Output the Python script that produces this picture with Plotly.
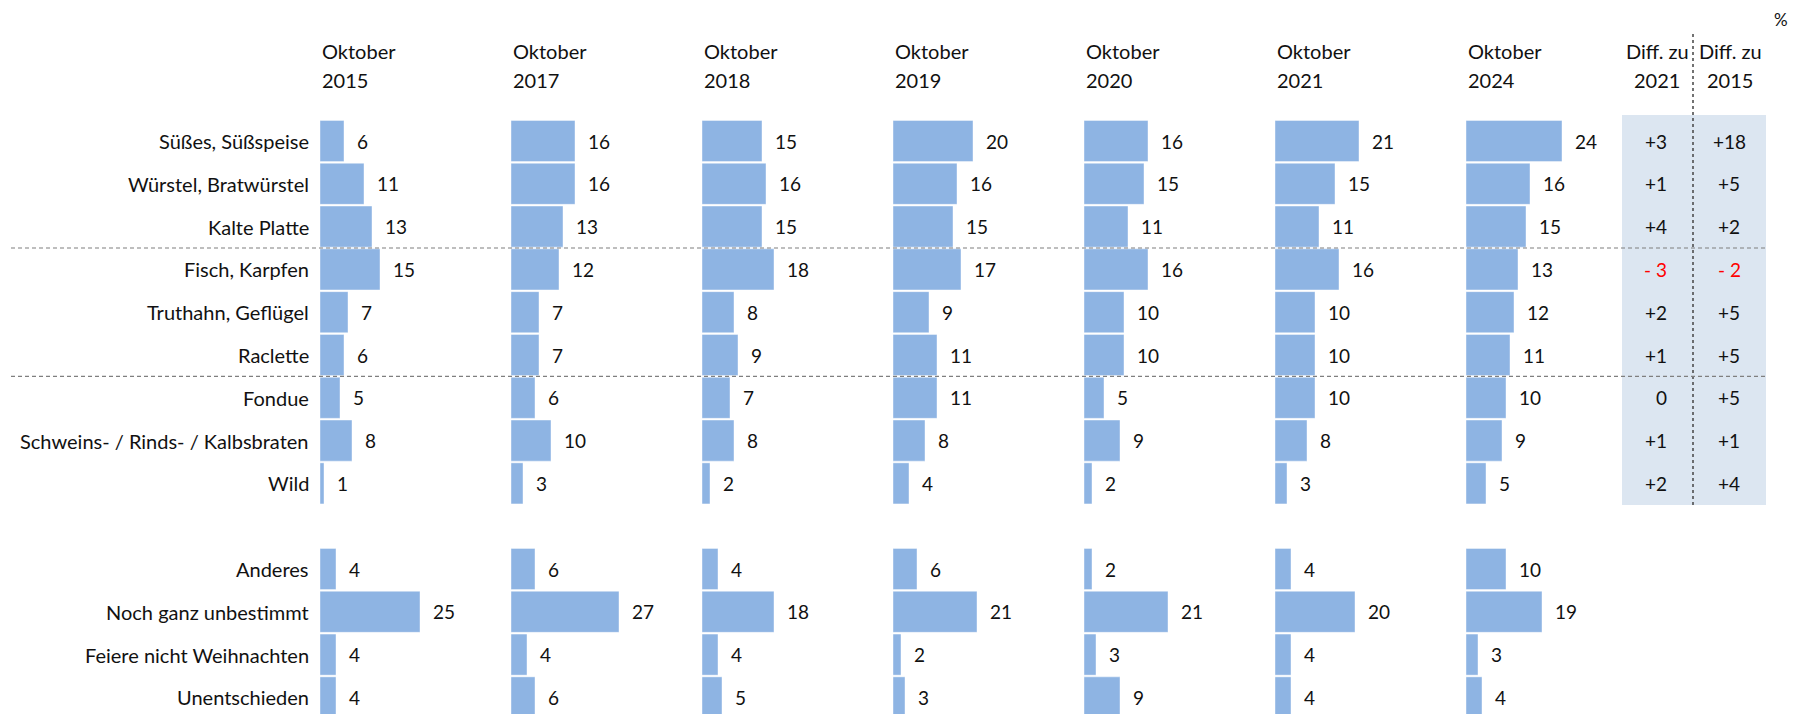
import plotly.graph_objects as go

# ---------------- data ----------------
categories = [
    "Süßes, Süßspeise", "Würstel, Bratwürstel", "Kalte Platte",
    "Fisch, Karpfen", "Truthahn, Geflügel", "Raclette",
    "Fondue", "Schweins- / Rinds- / Kalbsbraten", "Wild",
    "",
    "Anderes", "Noch ganz unbestimmt", "Feiere nicht Weihnachten", "Unentschieden",
]
years = ["2015", "2017", "2018", "2019", "2020", "2021", "2024"]

v2015 = [6, 11, 13, 15, 7, 6, 5, 8, 1, None, 4, 25, 4, 4]
v2017 = [16, 16, 13, 12, 7, 7, 6, 10, 3, None, 6, 27, 4, 6]
v2018 = [15, 16, 15, 18, 8, 9, 7, 8, 2, None, 4, 18, 4, 5]
v2019 = [20, 16, 15, 17, 9, 11, 11, 8, 4, None, 6, 21, 2, 3]
v2020 = [16, 15, 11, 16, 10, 10, 5, 9, 2, None, 2, 21, 3, 9]
v2021 = [21, 15, 11, 16, 10, 10, 10, 8, 3, None, 4, 20, 4, 4]
v2024 = [24, 16, 15, 13, 12, 11, 10, 9, 5, None, 10, 19, 3, 4]
series = [v2015, v2017, v2018, v2019, v2020, v2021, v2024]

diff_2021 = ["+3", "+1", "+4", "- 3", "+2", "+1", "0", "+1", "+2"]
diff_2015 = ["+18", "+5", "+2", "- 2", "+5", "+5", "+5", "+1", "+4"]

# ---------------- layout helpers ----------------
W, H = 1794, 714
PX_PER_UNIT = 4.0
col_x0 = [320, 511, 702, 893, 1084, 1275, 1466]
col_w = 170
row0_center, pitch = 141, 42.8
y_top = (0 - row0_center) / pitch
y_bot = (H - row0_center) / pitch

BAR = "#8EB4E3"
FONT = "Lato, 'Open Sans', sans-serif"
FS = 20
FSV = 19
TXT = "#111111"

def px(x):
    return x / W

def py(y):
    return 1 - y / H

fig = go.Figure()
annotations = []
layout_axes = {}

rows = list(range(len(categories)))
for i, (yr, vals) in enumerate(zip(years, series)):
    xa = "x" if i == 0 else f"x{i+1}"
    xs = [v for v in vals if v is not None]
    ys = [r for r, v in zip(rows, vals) if v is not None]
    fig.add_trace(go.Bar(
        x=xs, y=ys, orientation="h", xaxis=xa, yaxis="y",
        marker=dict(color=BAR, line=dict(width=0.6, color="rgba(255,255,255,0.7)")),
        width=0.96, hoverinfo="skip", showlegend=False,
    ))
    key = "xaxis" if i == 0 else f"xaxis{i+1}"
    layout_axes[key] = dict(
        domain=[px(col_x0[i]), px(col_x0[i] + col_w)],
        range=[0, col_w / PX_PER_UNIT], anchor="y", visible=False,
        showgrid=False, zeroline=False, fixedrange=True,
    )
    for v, r in zip(xs, ys):
        annotations.append(dict(
            x=v, y=r, xref=xa, yref="y", text=str(v), showarrow=False,
            xanchor="left", yanchor="middle", xshift=11,
            font=dict(family=FONT, size=FSV, color=TXT),
        ))
    # header
    annotations.append(dict(x=px(col_x0[i]), y=py(51), xref="paper", yref="paper",
                            text="Oktober", showarrow=False, xanchor="left", yanchor="middle",
                            font=dict(family=FONT, size=FS, color=TXT)))
    annotations.append(dict(x=px(col_x0[i]), y=py(80), xref="paper", yref="paper",
                            text=yr, showarrow=False, xanchor="left", yanchor="middle",
                            font=dict(family=FONT, size=FS, color=TXT)))

# row labels
for r, c in enumerate(categories):
    if not c:
        continue
    annotations.append(dict(x=px(311), y=r, xref="paper", yref="y", text=c,
                            showarrow=False, xanchor="right", yanchor="middle",
                            font=dict(family=FONT, size=FS, color=TXT)))

# diff columns
for txt, yy in (("Diff. zu", 51), ("2021", 80)):
    annotations.append(dict(x=px(1657), y=py(yy), xref="paper", yref="paper", text=txt,
                            showarrow=False, xanchor="center", yanchor="middle",
                            font=dict(family=FONT, size=FS, color=TXT)))
for txt, yy in (("Diff. zu", 51), ("2015", 80)):
    annotations.append(dict(x=px(1730), y=py(yy), xref="paper", yref="paper", text=txt,
                            showarrow=False, xanchor="center", yanchor="middle",
                            font=dict(family=FONT, size=FS, color=TXT)))
for r, (a, b) in enumerate(zip(diff_2021, diff_2015)):
    ca = "#FF0000" if a.startswith("-") else TXT
    cb = "#FF0000" if b.startswith("-") else TXT
    annotations.append(dict(x=px(1669), y=r, xref="paper", yref="y", text=a,
                            showarrow=False, xanchor="right", yanchor="middle",
                            font=dict(family=FONT, size=FSV, color=ca)))
    annotations.append(dict(x=px(1729), y=r, xref="paper", yref="y", text=b,
                            showarrow=False, xanchor="center", yanchor="middle",
                            font=dict(family=FONT, size=FSV, color=cb)))

annotations.append(dict(x=px(1781), y=py(19), xref="paper", yref="paper", text="%",
                        showarrow=False, xanchor="center", yanchor="middle",
                        font=dict(family=FONT, size=17, color=TXT)))

shapes = [
    dict(type="rect", xref="paper", yref="paper", x0=px(1622), x1=px(1766),
         y0=py(505), y1=py(115), fillcolor="#DCE6F1", line=dict(width=0), layer="below"),
    dict(type="line", xref="paper", yref="paper", x0=px(1693), x1=px(1693),
         y0=py(505), y1=py(31), line=dict(color="#444444", width=1.5, dash="dot")),
    dict(type="line", xref="paper", yref="y", x0=px(11), x1=px(1766), y0=2.5, y1=2.5,
         line=dict(color="#7F7F7F", width=1.2, dash="4px,3px")),
    dict(type="line", xref="paper", yref="y", x0=px(11), x1=px(1766), y0=5.5, y1=5.5,
         line=dict(color="#7F7F7F", width=1.2, dash="4px,3px")),
]

fig.update_layout(
    width=W, height=H,
    margin=dict(l=0, r=0, t=0, b=0),
    paper_bgcolor="white", plot_bgcolor="rgba(0,0,0,0)",
    yaxis=dict(range=[y_bot, y_top], visible=False, showgrid=False,
               zeroline=False, domain=[0, 1], fixedrange=True),
    annotations=annotations, shapes=shapes, bargap=0.04,
    **layout_axes,
)

fig.write_html(
    "out.html",
    config={"displayModeBar": False},
    post_script="document.body.style.margin='0px';document.body.style.overflow='hidden';",
)
